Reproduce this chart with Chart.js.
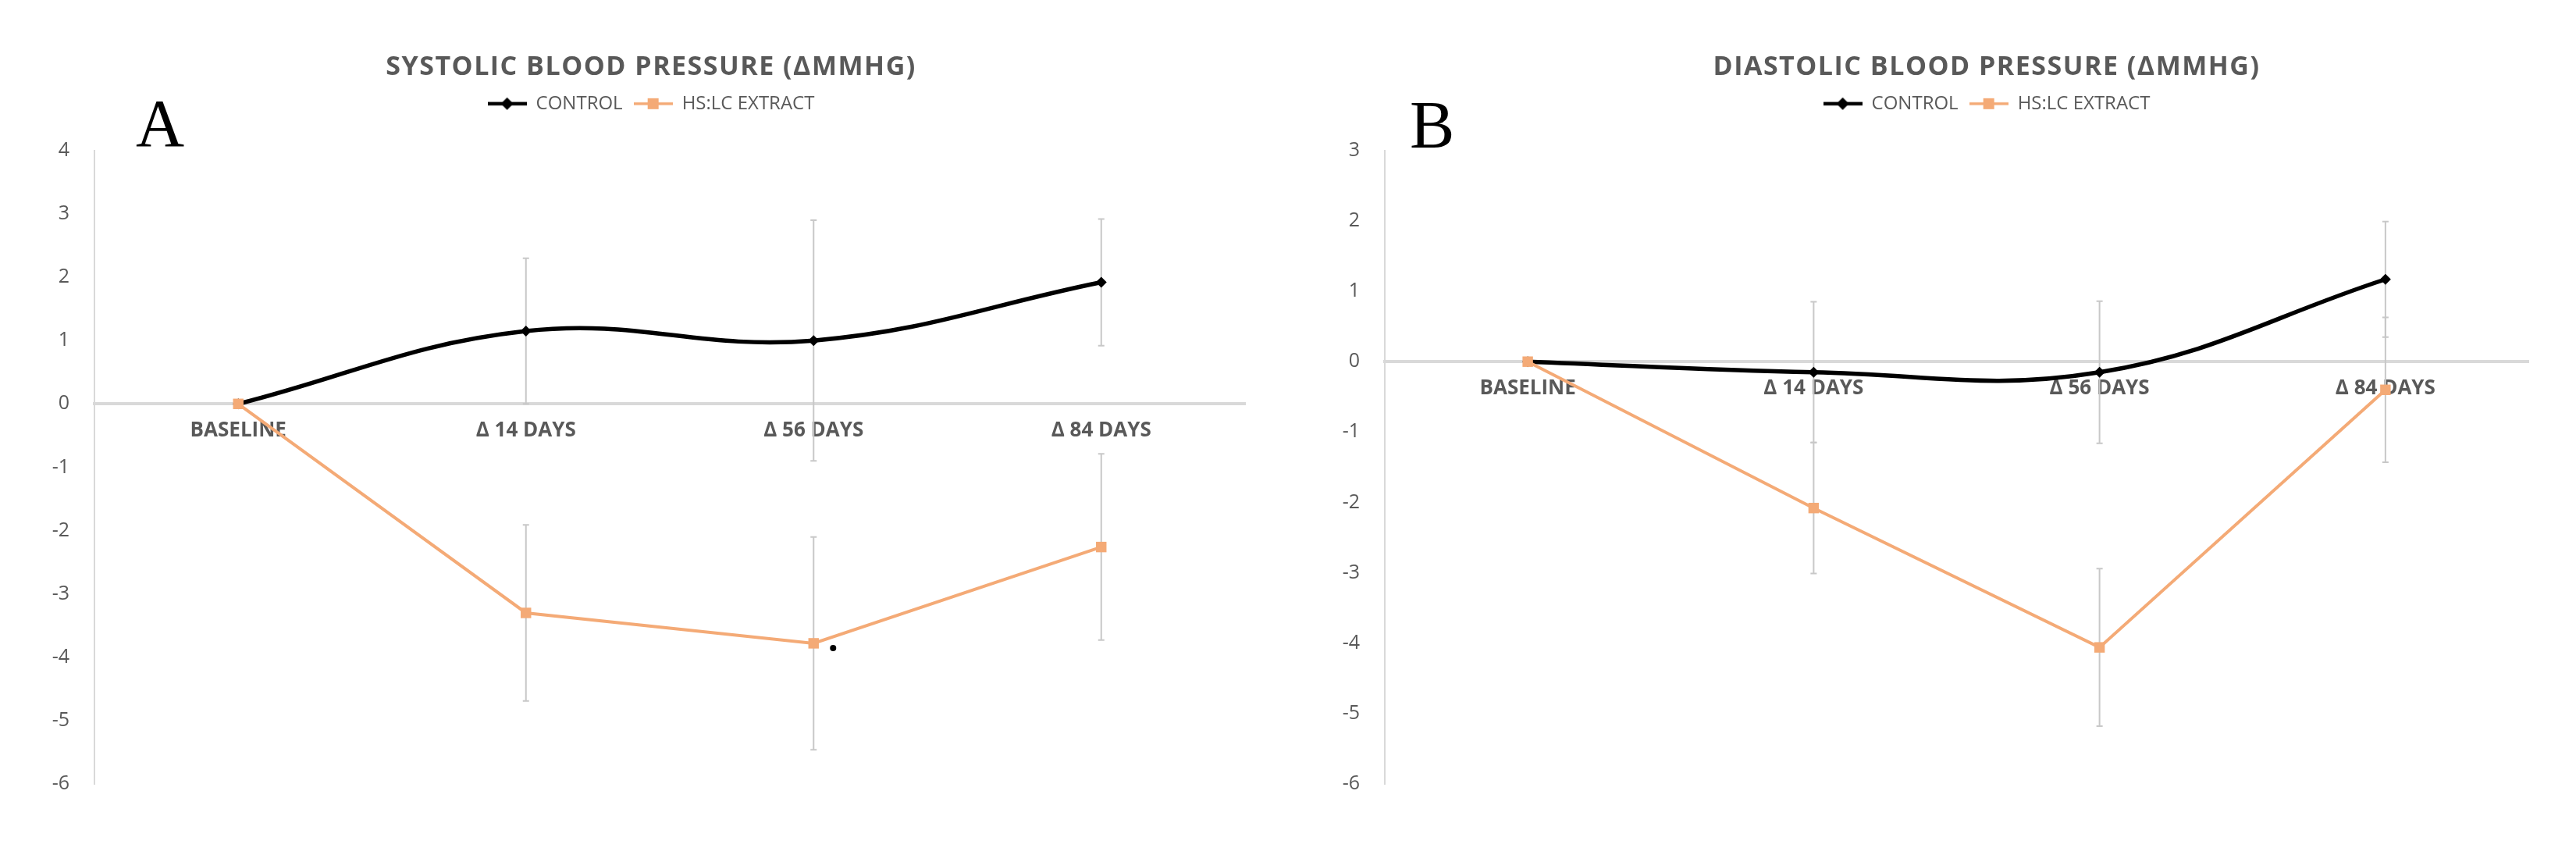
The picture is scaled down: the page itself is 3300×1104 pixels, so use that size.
<!DOCTYPE html>
<html>
<head>
<meta charset="utf-8">
<script src="https://cdn.jsdelivr.net/npm/chart.js@4.4.1/dist/chart.umd.min.js"></script>
<style>
  html, body { margin: 0; padding: 0; width: 3300px; height: 1104px; overflow: hidden; background: #fff; }
  .panel { position: absolute; top: 0; height: 1104px; }
  #boxA { left: 0; width: 1668px; }
  #boxB { left: 1650px; width: 1790px; }
</style>
</head>
<body>
<div class="panel" id="boxA"><canvas id="chartA"></canvas></div>
<div class="panel" id="boxB"><canvas id="chartB"></canvas></div>
<script>
// values (mean change, mmHg, with error bar half-lengths)
const categories = ["BASELINE", "Δ 14 DAYS", "Δ 56 DAYS", "Δ 84 DAYS"];
const seriesNames = ["CONTROL", "HS:LC EXTRACT"];

const sysControl = [0, 1.15, 1.0, 1.92];
const sysControlErr = [0, 1.15, 1.9, 1.0];
const sysExtract = [0, -3.3, -3.78, -2.26];
const sysExtractErr = [0, 1.39, 1.68, 1.47];
const sysExtractSig = ["", "", "*", ""];
const sysTicks = { min: -6, max: 4 };

const diaControl = [0, -0.15, -0.15, 1.17];
const diaControlErr = [0, 1.0, 1.01, 0.82];
const diaExtract = [0, -2.08, -4.06, -0.4];
const diaExtractErr = [0, 0.93, 1.12, 1.03];
const diaExtractSig = ["", "", "", ""];
const diaTicks = { min: -6, max: 3 };

const BLACK = "#000000";
const ORANGE = "#F4AA76";
const TEXT = "#595959";
const AXIS = "#D9D9D9";
const FONT = "'Open Sans', 'Liberation Sans', sans-serif";

// little line+marker swatch for the legend
function legendSwatch(color, style) {
  const c = document.createElement("canvas");
  c.width = 50; c.height = 22;
  const g = c.getContext("2d");
  g.strokeStyle = color; g.fillStyle = color;
  g.lineWidth = style === "diamond" ? 4.5 : 3.5;
  g.beginPath(); g.moveTo(0, 11); g.lineTo(50, 11); g.stroke();
  g.beginPath();
  if (style === "diamond") {
    g.moveTo(25, 3); g.lineTo(33, 11); g.lineTo(25, 19); g.lineTo(17, 11);
  } else {
    g.rect(18, 4, 14, 14);
  }
  g.closePath(); g.fill();
  return c;
}

const errorBars = {
  id: "errorBars",
  beforeDatasetsDraw(chart) {
    const ctx = chart.ctx;
    const y = chart.scales.y;
    ctx.save();
    ctx.strokeStyle = "#C8C8C8";
    ctx.lineWidth = 2;
    chart.data.datasets.forEach((ds, i) => {
      chart.getDatasetMeta(i).data.forEach((pt, j) => {
        const e = ds.errors[j];
        if (!e) return;
        const top = y.getPixelForValue(ds.data[j] + e);
        const bot = y.getPixelForValue(ds.data[j] - e);
        ctx.beginPath();
        ctx.moveTo(pt.x, top); ctx.lineTo(pt.x, bot);
        ctx.moveTo(pt.x - 4, top); ctx.lineTo(pt.x + 4, top);
        ctx.moveTo(pt.x - 4, bot); ctx.lineTo(pt.x + 4, bot);
        ctx.stroke();
      });
    });
    ctx.restore();
  },
  afterDatasetsDraw(chart) {
    const ctx = chart.ctx;
    ctx.save();
    ctx.fillStyle = "#000";
    chart.data.datasets.forEach((ds, i) => {
      if (!ds.sig) return;
      chart.getDatasetMeta(i).data.forEach((pt, j) => {
        if (!ds.sig[j]) return;
        ctx.beginPath();
        ctx.arc(pt.x + 25, pt.y + 6, 4, 0, Math.PI * 2);
        ctx.fill();
      });
    });
    ctx.restore();
  }
};

const panelLetter = {
  id: "panelLetter",
  afterDraw(chart, args, opts) {
    const ctx = chart.ctx;
    ctx.save();
    ctx.font = "86px 'Liberation Serif', 'DejaVu Serif', serif";
    ctx.fillStyle = "#000";
    ctx.textBaseline = "alphabetic";
    ctx.fillText(opts.text, opts.x, opts.y);
    ctx.restore();
  }
};

// push the plot area down below the legend like the Excel layout,
// and space out the title letters
const layoutTweaks = {
  id: "layoutTweaks",
  afterInit(chart, args, opts) {
    const fit = chart.legend.fit;
    chart.legend.fit = function () {
      fit.call(this);
      this.height += opts.extra;
    };
    const draw = chart.titleBlock.draw;
    chart.titleBlock.draw = function () {
      const ctx = this.ctx;
      const old = ctx.letterSpacing;
      ctx.letterSpacing = opts.titleSpacing;
      draw.call(this);
      ctx.letterSpacing = old;
    };
  }
};

function makeChart(id, title, control, controlErr, extract, extractErr, sig, ticks, letter, leftWidth, ghostWidth) {
  return new Chart(document.getElementById(id), {
    type: "line",
    data: {
      labels: categories,
      datasets: [
        {
          label: seriesNames[0],
          data: control,
          errors: controlErr,
          borderColor: BLACK,
          backgroundColor: BLACK,
          borderWidth: 5.5,
          tension: 0.4,
          pointStyle: "rectRot",
          pointRadius: 7,
          pointBackgroundColor: BLACK,
          pointBorderColor: BLACK,
          pointBorderWidth: 0,
          order: 1
        },
        {
          label: seriesNames[1],
          data: extract,
          errors: extractErr,
          sig: sig,
          borderColor: ORANGE,
          backgroundColor: ORANGE,
          borderWidth: 4,
          tension: 0,
          pointStyle: "rect",
          pointRadius: 9.5,
          pointBackgroundColor: ORANGE,
          pointBorderColor: ORANGE,
          pointBorderWidth: 0,
          order: 0
        }
      ]
    },
    options: {
      responsive: true,
      maintainAspectRatio: false,
      animation: false,
      clip: false,
      layout: { padding: { top: 0, left: 0, right: 0, bottom: 100 } },
      scales: {
        x: {
          position: { y: 0 },
          offset: true,
          grid: { display: false, drawTicks: false },
          border: { display: true, color: AXIS, width: 4 },
          ticks: {
            color: TEXT,
            padding: 19,
            maxRotation: 0,
            autoSkip: false,
            font: { family: FONT, size: 26, weight: "bold" }
          }
        },
        y: {
          min: ticks.min,
          max: ticks.max,
          grid: { display: false, drawTicks: false },
          border: { display: true, color: AXIS, width: 2 },
          ticks: {
            stepSize: 1,
            color: TEXT,
            padding: 32,
            font: { family: FONT, size: 25 }
          },
          afterFit(s) { s.width = leftWidth; }
        },
        ghost: {
          type: "linear",
          position: "right",
          grid: { display: false, drawTicks: false },
          border: { display: false },
          ticks: { display: false },
          afterFit(s) { s.width = ghostWidth; }
        }
      },
      plugins: {
        title: {
          display: true,
          text: title,
          color: TEXT,
          font: { family: FONT, size: 34, weight: "bold" },
          padding: { top: 66, bottom: 0 }
        },
        legend: {
          display: true,
          labels: {
            color: TEXT,
            usePointStyle: true,
            pointStyleWidth: 50,
            padding: 14,
            font: { family: FONT, size: 24 },
            generateLabels(chart) {
              return chart.data.datasets.map((ds, i) => ({
                text: ds.label,
                fontColor: TEXT,
                pointStyle: legendSwatch(ds.borderColor, i === 0 ? "diamond" : "square"),
                lineWidth: 0,
                strokeStyle: "transparent",
                fillStyle: "transparent",
                datasetIndex: i
              }));
            }
          }
        },
        tooltip: { enabled: false },
        layoutTweaks: { extra: 38, titleSpacing: "1.5px" },
        panelLetter: letter
      }
    },
    plugins: [errorBars, panelLetter, layoutTweaks]
  });
}

makeChart("chartA", "SYSTOLIC BLOOD PRESSURE (ΔMMHG)",
  sysControl, sysControlErr, sysExtract, sysExtractErr, sysExtractSig, sysTicks,
  { text: "A", x: 174, y: 187 }, 121, 73);

makeChart("chartB", "DIASTOLIC BLOOD PRESSURE (ΔMMHG)",
  diaControl, diaControlErr, diaExtract, diaExtractErr, diaExtractSig, diaTicks,
  { text: "B", x: 156, y: 189 }, 124, 201);
</script>
</body>
</html>
